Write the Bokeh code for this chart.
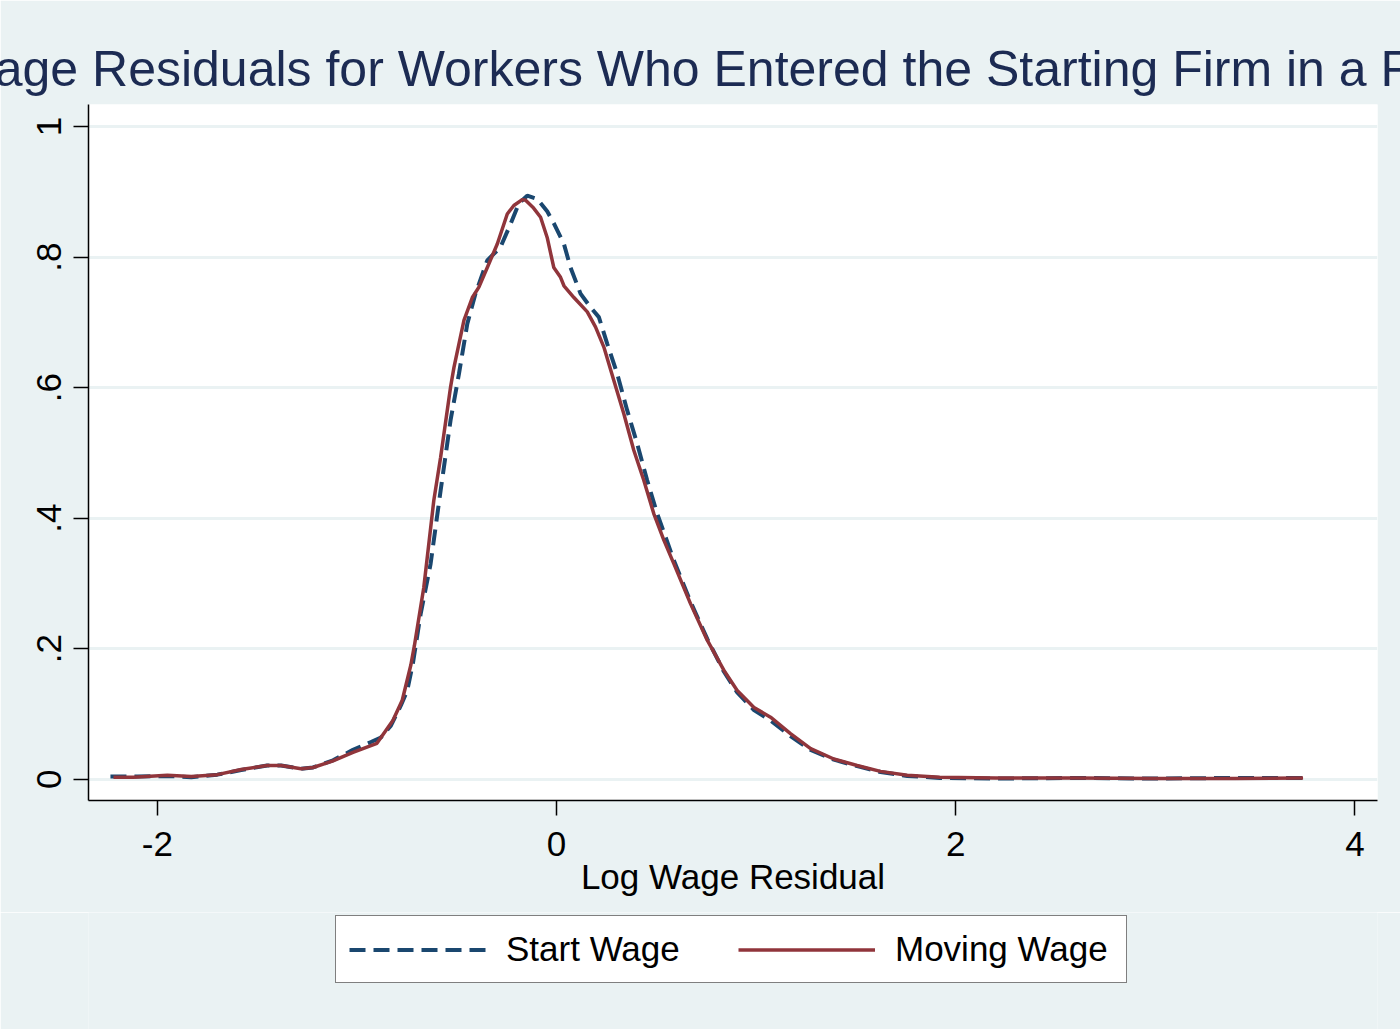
from bokeh.plotting import figure
from bokeh.models import Range1d, FixedTicker, Legend, LegendItem
from bokeh.layouts import column
from bokeh.embed import file_html
from bokeh.resources import INLINE

# ---- data ----
title_text = "Log Wage Residuals for Workers Who Entered the Starting Firm in a Recession"
x_label = "Log Wage Residual"
series_names = ["Start Wage", "Moving Wage"]

start_x = [-2.235, -2.10, -1.95, -1.83, -1.70, -1.58, -1.45, -1.38, -1.28, -1.22, -1.12, -1.02,
           -0.93, -0.88, -0.83, -0.78, -0.748, -0.72, -0.681, -0.631, -0.581, -0.531, -0.489,
           -0.447, -0.406, -0.347, -0.281, -0.230, -0.189, -0.147, -0.097, -0.047, -0.014,
           0.037, 0.070, 0.120, 0.170, 0.212, 0.254, 0.304, 0.354, 0.404, 0.454, 0.504,
           0.588, 0.671, 0.755, 0.838, 0.905, 0.989, 1.072, 1.172, 1.273, 1.389, 1.506,
           1.623, 1.757, 1.92, 2.2, 2.6, 3.0, 3.4, 3.74]
start_y = [0.004, 0.004, 0.005, 0.003, 0.007, 0.014, 0.021, 0.021, 0.016, 0.018, 0.029, 0.045,
           0.057, 0.064, 0.082, 0.113, 0.136, 0.177, 0.253, 0.330, 0.442, 0.550, 0.621,
           0.698, 0.744, 0.795, 0.815, 0.851, 0.882, 0.894, 0.889, 0.870, 0.852,
           0.820, 0.784, 0.744, 0.723, 0.708, 0.667, 0.621, 0.565, 0.514, 0.458, 0.407,
           0.335, 0.272, 0.215, 0.165, 0.133, 0.106, 0.090, 0.066, 0.045, 0.030, 0.020,
           0.011, 0.005, 0.002, 0.001, 0.002, 0.001, 0.002, 0.002]

moving_x = [-2.22, -2.12, -1.95, -1.83, -1.70, -1.58, -1.45, -1.38, -1.28, -1.22, -1.12, -1.02,
            -0.90, -0.82, -0.773, -0.73, -0.712, -0.665, -0.615, -0.581, -0.531, -0.514,
            -0.464, -0.422, -0.389, -0.347, -0.297, -0.247, -0.214, -0.172, -0.155, -0.115,
            -0.080, -0.047, -0.014, 0.020, 0.037, 0.087, 0.154, 0.195, 0.237, 0.287, 0.337,
            0.387, 0.437, 0.487, 0.538, 0.588, 0.671, 0.755, 0.838, 0.905, 0.989, 1.072,
            1.172, 1.273, 1.389, 1.506, 1.623, 1.757, 1.92, 2.2, 2.6, 3.0, 3.4, 3.74]
moving_y = [0.003, 0.003, 0.006, 0.004, 0.007, 0.015, 0.021, 0.021, 0.016, 0.018, 0.028, 0.041,
            0.055, 0.090, 0.121, 0.175, 0.205, 0.294, 0.427, 0.493, 0.601, 0.631,
            0.703, 0.738, 0.754, 0.784, 0.820, 0.866, 0.879, 0.888, 0.887, 0.875,
            0.861, 0.830, 0.784, 0.769, 0.756, 0.738, 0.716, 0.693, 0.662, 0.611, 0.560,
            0.504, 0.458, 0.407, 0.366, 0.330, 0.269, 0.213, 0.167, 0.136, 0.110, 0.095,
            0.070, 0.047, 0.031, 0.021, 0.012, 0.006, 0.003, 0.002, 0.002, 0.001, 0.001, 0.002]

x_ticks = [-2, 0, 2, 4]
x_tick_labels = ["-2", "0", "2", "4"]
y_ticks = [0, 0.2, 0.4, 0.6, 0.8, 1.0]
y_tick_labels = ["0", ".2", ".4", ".6", ".8", "1"]

# ---- styling ----
FONT = "Liberation Sans"
BG = "#EAF2F3"
NAVY = "#1A476F"
MAROON = "#90353B"
START_STYLE = dict(line_color=NAVY, line_width=4, line_dash="16 8")
MOVE_STYLE = dict(line_color=MAROON, line_width=3.5)

p = figure(width=1400, height=912, output_backend="svg", toolbar_location=None,
           x_range=Range1d(-2.345, 4.113), y_range=Range1d(-0.0326, 1.0337),
           min_border_left=88, min_border_right=23, min_border_top=104, min_border_bottom=112)

p.border_fill_color = BG
p.background_fill_color = "white"
p.outline_line_color = None

p.title.text = title_text
p.title.align = "center"
p.title.text_font = FONT
p.title.text_font_size = "50px"
p.title.text_font_style = "normal"
p.title.text_color = "#1C2B53"
p.title.standoff = 16

p.line(start_x, start_y, **START_STYLE)
p.line(moving_x, moving_y, **MOVE_STYLE)

# axes
for ax in (p.xaxis[0], p.yaxis[0]):
    ax.axis_line_color = "black"
    ax.axis_line_width = 1.5
    ax.major_tick_line_color = "black"
    ax.major_tick_line_width = 1.5
    ax.major_tick_in = 0
    ax.major_tick_out = 15
    ax.minor_tick_line_color = None
    ax.major_label_text_font = FONT
    ax.major_label_text_font_size = "35px"
    ax.major_label_text_color = "black"

p.xaxis[0].ticker = FixedTicker(ticks=x_ticks)
p.xaxis[0].major_label_overrides = dict(zip(x_ticks, x_tick_labels))
p.xaxis[0].major_label_standoff = 16
p.xaxis[0].axis_label = x_label
p.xaxis[0].axis_label_text_font = FONT
p.xaxis[0].axis_label_text_font_size = "35px"
p.xaxis[0].axis_label_text_font_style = "normal"
p.xaxis[0].axis_label_text_color = "black"
p.xaxis[0].axis_label_standoff = -2

p.yaxis[0].ticker = FixedTicker(ticks=y_ticks)
p.yaxis[0].major_label_overrides = dict(zip(y_ticks, y_tick_labels))
p.yaxis[0].major_label_orientation = "vertical"
p.yaxis[0].major_label_standoff = 12

p.xgrid.grid_line_color = None
p.ygrid.grid_line_color = BG
p.ygrid.grid_line_width = 3
p.ygrid.ticker = FixedTicker(ticks=y_ticks)

# ---- legend strip below the chart ----
p2 = figure(width=1400, height=117, output_backend="svg", toolbar_location=None,
            x_range=Range1d(0, 1), y_range=Range1d(0, 1),
            x_axis_type=None, y_axis_type=None, min_border=0)
p2.border_fill_color = BG
p2.background_fill_color = BG
p2.outline_line_color = None

nan = float("nan")
k_start = p2.line([nan], [nan], **START_STYLE)   # legend key only, draws nothing
k_move = p2.line([nan], [nan], **MOVE_STYLE)     # legend key only, draws nothing

legend = Legend(items=[LegendItem(label=series_names[0], renderers=[k_start]),
                       LegendItem(label=series_names[1], renderers=[k_move])],
                orientation="horizontal", location=(247, 46))
legend.label_text_font = FONT
legend.label_text_font_size = "35px"
legend.label_text_color = "black"
legend.label_height = 35
legend.label_width = 218
legend.glyph_width = 137
legend.glyph_height = 35
legend.label_standoff = 20
legend.spacing = 14
legend.padding = 13
legend.margin = 0
legend.border_line_color = "black"
legend.border_line_width = 1.5
legend.background_fill_color = "white"
legend.background_fill_alpha = 1.0
p2.add_layout(legend, "center")

layout = column(p, p2, spacing=0)
open("out.html", "w").write(file_html(layout, INLINE))
